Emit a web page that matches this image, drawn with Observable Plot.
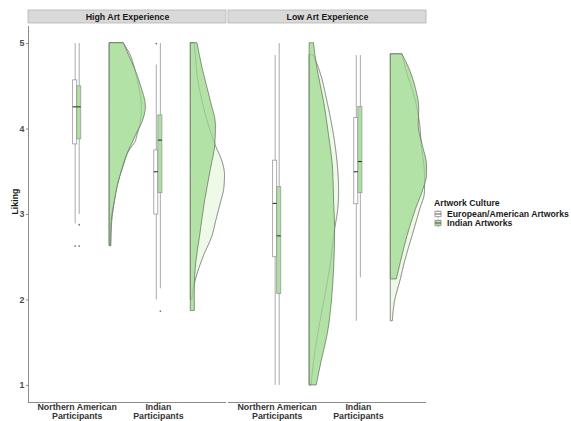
<!DOCTYPE html>
<html>
<head>
<meta charset="utf-8">
<script src="https://cdn.jsdelivr.net/npm/d3@7"></script>
<script src="https://cdn.jsdelivr.net/npm/@observablehq/plot@0.6"></script>
<style>
  html, body { margin: 0; padding: 0; background: #fff; }
  #wrap { position: relative; width: 571px; height: 421px; font-family: "Liberation Sans", Arial, sans-serif; }
  #legend { position: absolute; left: 0; top: 0; width: 571px; height: 421px; pointer-events: none; }
  #legend .t { position: absolute; font-size: 8.7px; font-weight: bold; white-space: nowrap; line-height: 1; color: #1a1a1a; }
  #legend svg { position: absolute; }
</style>
</head>
<body>
<div id="wrap"><div id="legend"></div></div>
<script>
// ---------------- data ----------------
const experience = ["High Art Experience", "Low Art Experience"];
const participants = ["Northern American\nParticipants", "Indian\nParticipants"];
const cultures = ["European/American Artworks", "Indian Artworks"];
const yTicks = [1, 2, 3, 4, 5];
const legendTitle = "Artwork Culture";
const yLabel = "Liking";

// boxplot summaries (order: High/NA/Eu, High/NA/In, High/IN/Eu, High/IN/In, Low/NA/Eu, Low/NA/In, Low/IN/Eu, Low/IN/In)
const boxExp     = [0, 0, 0, 0, 1, 1, 1, 1];
const boxGroup   = [1, 1, 2, 2, 1, 1, 2, 2];
const boxCulture = [0, 1, 0, 1, 0, 1, 0, 1];
const boxLo   = [2.89, 3.00, 2.00, 2.13, 1.00, 1.00, 1.75, 2.26];
const boxQ1   = [3.82, 3.88, 3.00, 3.25, 2.50, 2.07, 3.12, 3.25];
const boxMed  = [4.26, 4.26, 3.50, 3.87, 3.13, 2.75, 3.50, 3.62];
const boxQ3   = [4.57, 4.50, 3.75, 4.16, 3.63, 3.32, 4.13, 4.26];
const boxHi   = [5.00, 5.00, 4.75, 5.00, 4.86, 5.00, 4.86, 4.86];
const boxOutliers = [[2.63], [2.88, 2.63], [5.0], [1.87], [], [], [], []];

// half-violin density profiles (liking level, relative density)
const vHN_Eu_y = [5.0, 4.86, 4.71, 4.51, 4.26, 4.08, 3.92, 3.84, 3.77, 3.53, 3.34, 3.14, 2.91, 2.63];
const vHN_Eu_d = [14, 21, 25, 29, 32, 31, 27.5, 25.5, 21, 13, 8, 5, 2.5, 1.5];
const vHN_In_y = [5.0, 4.86, 4.71, 4.51, 4.26, 4.08, 3.92, 3.84, 3.77, 3.53, 3.34, 3.14, 2.91, 2.63];
const vHN_In_d = [14.3, 19.3, 25, 31, 36, 32.7, 26, 23, 20, 12.7, 8.3, 5, 2, 1.5];

const vHI_Eu_y = [5.0, 4.86, 4.63, 4.32, 4.04, 3.80, 3.61, 3.46, 3.30, 3.14, 2.91, 2.75, 2.52, 2.36, 2.13, 2.0];
const vHI_Eu_d = [4, 5, 6.7, 11.7, 18, 25, 31.7, 34, 33.3, 30, 25, 21.7, 13.3, 8.3, 3, 1.5];
const vHI_In_y = [5.0, 4.71, 4.32, 4.04, 3.81, 3.53, 3.14, 2.75, 2.44, 2.13, 1.87];
const vHI_In_d = [6.7, 11.7, 20, 25, 24.3, 20, 14, 9.3, 5.5, 4, 4];

const vLN_Eu_y = [4.86, 4.71, 4.32, 3.92, 3.53, 3.26, 2.99, 2.83, 2.36, 1.97, 1.58, 1.27, 1.0];
const vLN_Eu_d = [4, 9.3, 17.7, 24.3, 28.3, 29.3, 27.7, 25.3, 20.3, 14.3, 8.3, 4.3, 2];
const vLN_In_y = [5.0, 4.71, 4.32, 3.92, 3.53, 3.14, 2.83, 2.36, 1.97, 1.58, 1.27, 1.0];
const vLN_In_d = [4.3, 7.7, 14.3, 19.3, 23.3, 24.3, 25.3, 24.3, 22, 17.7, 11.7, 7];

const vLI_Eu_y = [4.87, 4.71, 4.32, 4.04, 3.81, 3.46, 3.26, 3.06, 2.75, 2.44, 2.24, 1.97, 1.75];
const vLI_Eu_d = [11.7, 15, 25, 29.3, 30.7, 34, 34, 29.3, 21.7, 14, 10, 4, 2];
const vLI_In_y = [4.87, 4.71, 4.47, 4.24, 4.04, 3.81, 3.57, 3.46, 3.30, 3.06, 2.75, 2.44, 2.24];
const vLI_In_d = [11.7, 18.3, 25, 28.3, 27.7, 31.7, 36, 36, 32.7, 25, 16.7, 10, 6];

const violins = [
  [0, 1, 0, vHN_Eu_y, vHN_Eu_d], [0, 1, 1, vHN_In_y, vHN_In_d],
  [0, 2, 0, vHI_Eu_y, vHI_Eu_d], [0, 2, 1, vHI_In_y, vHI_In_d],
  [1, 1, 0, vLN_Eu_y, vLN_Eu_d], [1, 1, 1, vLN_In_y, vLN_In_d],
  [1, 2, 0, vLI_Eu_y, vLI_Eu_d], [1, 2, 1, vLI_In_y, vLI_In_d]
];

// ---------------- layout constants ----------------
const xDomain = [0.4, 2.84];
const boxOffset = [-0.025, 0.025];
const boxHalf = 0.025;
const violinNudge = 0.4;
const densityScale = 1 / 80.6;
const fillEu = "#eef9e8";
const fillIn = "#acdfa0";

// ---------------- tables ----------------
const boxes = boxExp.map((e, i) => ({
  exp: experience[e], g: boxGroup[i], c: boxCulture[i],
  lo: boxLo[i], q1: boxQ1[i], med: boxMed[i], q3: boxQ3[i], hi: boxHi[i],
  xc: boxGroup[i] + boxOffset[boxCulture[i]]
}));
const outliers = boxes.flatMap((b, i) => boxOutliers[i].map(v => ({exp: b.exp, x: b.xc, v})));
const violinRows = violins.flatMap(([e, g, c, ys, ds], k) =>
  ys.map((v, j) => ({id: k, exp: experience[e], g, c, v, x1: g + violinNudge, x2: g + violinNudge + ds[j] * densityScale})));
const vEu = violinRows.filter(d => d.c === 0);
const vIn = violinRows.filter(d => d.c === 1);

const tickColor = "#4d4d4d";

const chart = Plot.plot({
  width: 571, height: 421,
  marginLeft: 28, marginRight: 145, marginTop: 26, marginBottom: 19,
  style: {fontFamily: '"Liberation Sans", Arial, sans-serif', background: "white"},
  fx: {domain: experience, paddingInner: 0.01, paddingOuter: 0, axis: null},
  x: {domain: xDomain, axis: null},
  y: {domain: [0.8, 5.2], axis: null},
  marks: [
    // strips
    Plot.rect(experience, {fx: d => d, x1: xDomain[0], x2: xDomain[1], y1: 5.2, y2: 5.2, insetTop: -16, insetBottom: 3, fill: "#d9d9d9", stroke: "#b5b5b5", strokeWidth: 0.8}),
    Plot.text(experience, {fx: d => d, x: (xDomain[0] + xDomain[1]) / 2, y: 5.2, dy: -9.5, text: d => d, fontWeight: "bold", fontSize: 8.8, fill: "#1a1a1a"}),
    // axes lines
    Plot.ruleY([0.8], {stroke: "#8c8c8c", strokeWidth: 1}),
    Plot.ruleX([experience[0]], {fx: d => d, x: xDomain[0], stroke: "#8c8c8c", strokeWidth: 1}),
    Plot.axisY({ticks: yTicks, tickFormat: d => String(d), tickSize: 2, tickPadding: 2, fontWeight: "bold", fontSize: 8.8, color: tickColor, stroke: "#8c8c8c",
      label: null}),
    Plot.text([experience[0]], {fx: d => d, text: () => yLabel, frameAnchor: "left", dx: -13, rotate: -90, fontWeight: "bold", fontSize: 8.8, fill: "#1a1a1a"}),
    Plot.axisX({ticks: [1, 2], tickFormat: i => participants[i - 1], tickSize: 0, tickPadding: 1.5, fontWeight: "bold", fontSize: 8.8, color: "#333", lineHeight: 1.02, label: null}),
    // boxplots
    Plot.ruleX(boxes, {fx: "exp", x: "xc", y1: "lo", y2: "hi", stroke: "#a0a0a0", strokeWidth: 0.9}),
    Plot.rect(boxes, {fx: "exp", x1: d => d.xc - boxHalf, x2: d => d.xc + boxHalf, y1: "q1", y2: "q3", fill: d => d.c === 0 ? "#ffffff" : fillIn, stroke: "#9a9a9a", strokeWidth: 0.8}),
    Plot.ruleY(boxes, {fx: "exp", y: "med", x1: d => d.xc - boxHalf, x2: d => d.xc + boxHalf, stroke: "#333", strokeWidth: 1.1}),
    Plot.dot(outliers, {fx: "exp", x: "x", y: "v", r: 0.9, fill: "#777", stroke: null}),
    // half violins
    Plot.areaX(vEu, {fx: "exp", y: "v", x1: "x1", x2: "x2", z: "id", fill: fillEu, stroke: "#7a7a7a", strokeWidth: 0.7, curve: "monotone-y"}),
    Plot.areaX(vIn, {fx: "exp", y: "v", x1: "x1", x2: "x2", z: "id", fill: fillIn, fillOpacity: 0.92, stroke: "#5a6e55", strokeWidth: 0.7, curve: "monotone-y"}),
    Plot.areaX(vEu, {fx: "exp", y: "v", x1: "x1", x2: "x2", z: "id", fill: "none", stroke: "#7a7a7a", strokeOpacity: 0.45, strokeWidth: 0.6, curve: "monotone-y"})
  ]
});
document.getElementById("wrap").prepend(chart);

// ---------------- legend ----------------
const leg = document.getElementById("legend");
function addText(txt, x, y) {
  const s = document.createElement("div");
  s.className = "t"; s.textContent = txt;
  s.style.left = x + "px"; s.style.top = y + "px";
  leg.appendChild(s);
}
addText(legendTitle, 434, 199);
cultures.forEach((c, i) => {
  const top = 210.3 + i * 8.9;
  const ns = "http://www.w3.org/2000/svg";
  const svg = document.createElementNS(ns, "svg");
  svg.setAttribute("width", 8); svg.setAttribute("height", 8);
  svg.style.left = "434px"; svg.style.top = top + "px";
  const bg = document.createElementNS(ns, "rect");
  bg.setAttribute("x", 0); bg.setAttribute("y", 0); bg.setAttribute("width", 8); bg.setAttribute("height", 8); bg.setAttribute("fill", "#f2f2f2");
  const w = document.createElementNS(ns, "line");
  w.setAttribute("x1", 4); w.setAttribute("x2", 4); w.setAttribute("y1", 0); w.setAttribute("y2", 8); w.setAttribute("stroke", "#9a9a9a"); w.setAttribute("stroke-width", 0.8);
  const r = document.createElementNS(ns, "rect");
  r.setAttribute("x", 1); r.setAttribute("y", 1.5); r.setAttribute("width", 6); r.setAttribute("height", 5); r.setAttribute("fill", i === 0 ? "#ffffff" : fillIn); r.setAttribute("stroke", "#8a8a8a"); r.setAttribute("stroke-width", 0.7);
  const m = document.createElementNS(ns, "line");
  m.setAttribute("x1", 1); m.setAttribute("x2", 7); m.setAttribute("y1", 4); m.setAttribute("y2", 4); m.setAttribute("stroke", "#333"); m.setAttribute("stroke-width", 0.8);
  svg.append(bg, w, r, m);
  leg.appendChild(svg);
  addText(c, 447, top);
});
</script>
</body>
</html>
